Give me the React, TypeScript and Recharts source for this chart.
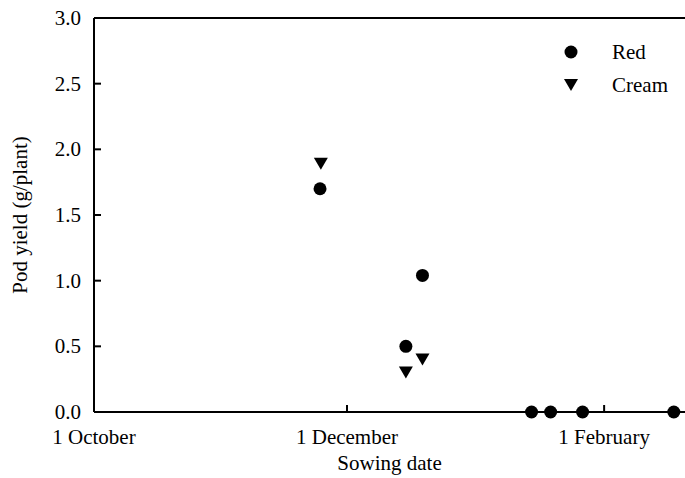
import React from 'react';
import { ScatterChart, Scatter, XAxis, YAxis, ReferenceLine } from 'recharts';

// x = days after 1 October
const xTickValues = [0, 61, 123];
const xTickLabels = ['1 October', '1 December', '1 February'];
const yTickValues = [0, 0.5, 1, 1.5, 2, 2.5, 3];

const redDays = [54.5, 75.2, 79.2, 105.5, 110.1, 117.8, 139.8];
const redYield = [1.7, 0.5, 1.04, 0, 0, 0, 0];
const creamDays = [54.7, 75.2, 79.2];
const creamYield = [1.89, 0.3, 0.4];

const redData = redDays.map((d, i) => ({ x: d, y: redYield[i] }));
const creamData = creamDays.map((d, i) => ({ x: d, y: creamYield[i] }));

const FONT = '"Liberation Serif", "DejaVu Serif", serif';
const FS = 21;

const Circle = (props: any) => {
  const { cx, cy } = props;
  return <circle cx={cx} cy={cy} r={6.5} fill="#000" />;
};
const Tri = (props: any) => {
  const { cx, cy } = props;
  const w = 7, h = 12;
  return <path d={`M${cx - w},${cy - h / 2} L${cx + w},${cy - h / 2} L${cx},${cy + h / 2} Z`} fill="#000" />;
};

const YTick = (props: any) => {
  const { x, y, payload } = props;
  return (
    <g>
      <line x1={x} x2={x + 7} y1={y} y2={y} stroke="#000" strokeWidth={2} />
      <text x={x - 13} y={y} dy={7} textAnchor="end" fontFamily={FONT} fontSize={FS} fill="#000">
        {Number(payload.value).toFixed(1)}
      </text>
    </g>
  );
};

const XTick = (props: any) => {
  const { x, y, payload } = props;
  const idx = xTickValues.indexOf(payload.value);
  return (
    <g>
      <line x1={x} x2={x} y1={y} y2={y - 7} stroke="#000" strokeWidth={2} />
      <text x={x} y={y + 32} textAnchor="middle" fontFamily={FONT} fontSize={FS} fill="#000">
        {xTickLabels[idx]}
      </text>
    </g>
  );
};

const LegendBox = () => (
  <svg width={120} height={60} style={{ position: 'absolute', left: 560, top: 38 }}>
    <circle cx={11} cy={14} r={6.5} fill="#000" />
    <text x={52} y={21} fontFamily={FONT} fontSize={FS} fill="#000">Red</text>
    <path d="M4,41 L18,41 L11,53 Z" fill="#000" />
    <text x={52} y={54} fontFamily={FONT} fontSize={FS} fill="#000">Cream</text>
  </svg>
);

export default function App() {
  return (
    <div style={{ position: 'absolute', left: 0, top: 0, width: 685, height: 478, background: '#fff' }}>
      <ScatterChart width={685} height={478} margin={{ top: 18, right: 0, left: 0, bottom: 0 }}>
        <XAxis
          type="number"
          dataKey="x"
          domain={[0, 142.5]}
          ticks={xTickValues}
          tick={<XTick />}
          tickSize={0}
          tickMargin={0}
          tickLine={false}
          axisLine={{ stroke: '#000', strokeWidth: 2 }}
          height={66}
          allowDataOverflow
          label={{ value: 'Sowing date', position: 'insideBottom', offset: 8, fontFamily: FONT, fontSize: FS, fill: '#000' }}
        />
        <YAxis
          type="number"
          dataKey="y"
          domain={[0, 3]}
          ticks={yTickValues}
          tick={<YTick />}
          tickSize={0}
          tickMargin={0}
          tickLine={false}
          axisLine={{ stroke: '#000', strokeWidth: 2 }}
          width={94}
          label={{ value: 'Pod yield (g/plant)', angle: -90, position: 'insideLeft', offset: 20, style: { textAnchor: 'middle' }, fontFamily: FONT, fontSize: FS, fill: '#000' }}
        />
        <ReferenceLine y={3} stroke="#000" strokeWidth={2} />
        <Scatter name="Red" data={redData} shape={<Circle />} fill="#000" isAnimationActive={false} />
        <Scatter name="Cream" data={creamData} shape={<Tri />} fill="#000" isAnimationActive={false} />
      </ScatterChart>
      <LegendBox />
    </div>
  );
}
